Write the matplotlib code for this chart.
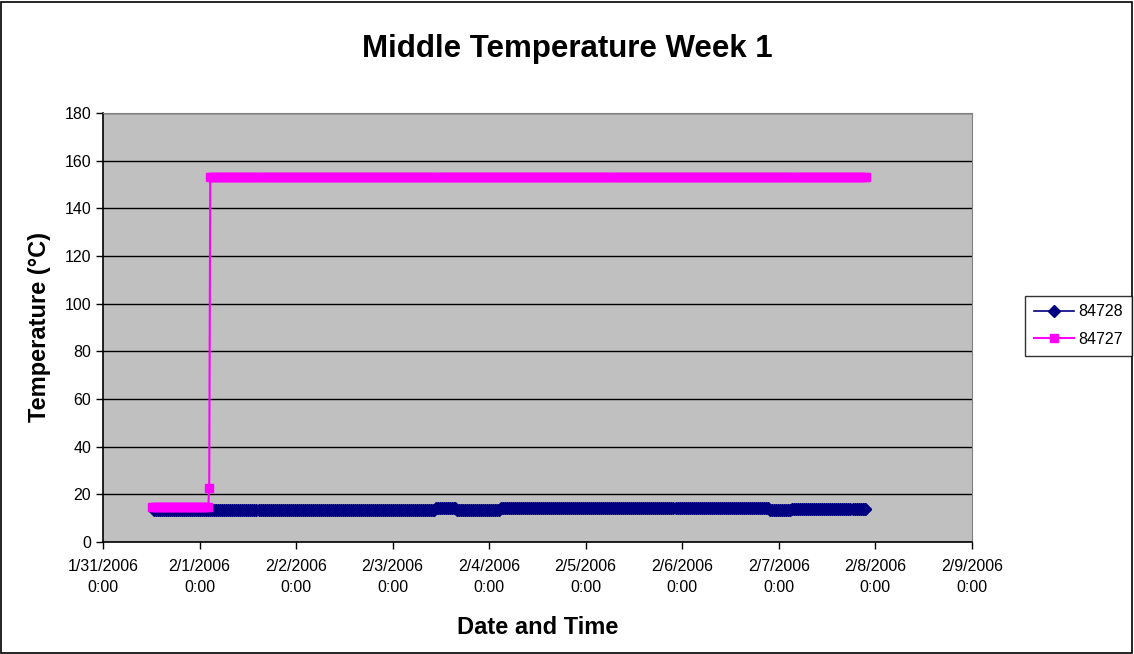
import numpy as np
import pandas as pd
import matplotlib
matplotlib.use("Agg")
import matplotlib.pyplot as plt
from matplotlib.patches import Rectangle

plt.rcParams['font.family'] = ['Liberation Sans', 'DejaVu Sans']

# Logger readings, stored as runs of constant value (start, end, temperature)
probe_28_start = ['2006-01-31 12:40', '2006-02-03 10:50', '2006-02-03 16:00',
                  '2006-02-04 02:50', '2006-02-06 21:50', '2006-02-07 03:20']
probe_28_end = ['2006-02-03 10:20', '2006-02-03 15:30', '2006-02-04 02:20',
                '2006-02-06 21:20', '2006-02-07 02:50', '2006-02-07 21:30']
probe_28_temp = [13.5, 14.3, 13.5, 14.1, 13.4, 14.0]

probe_27_start = ['2006-01-31 12:10', '2006-02-01 02:25', '2006-02-01 02:40']
probe_27_end = ['2006-02-01 02:10', '2006-02-01 02:25', '2006-02-07 21:40']
probe_27_temp = [14.5, 22.6, 153.3]

LOG_INTERVAL = '30min'

y_ticks = [0, 20, 40, 60, 80, 100, 120, 140, 160, 180]
x_start, x_end = '2006-01-31', '2006-02-09'


def expand_runs(starts, ends, temps):
    """Turn constant-value runs back into a logger time series."""
    times, values = [], []
    for s, e, t in zip(starts, ends, temps):
        stamps = pd.date_range(s, e, freq=LOG_INTERVAL)
        if len(stamps) == 0 or stamps[-1] != pd.Timestamp(e):
            stamps = stamps.append(pd.DatetimeIndex([pd.Timestamp(e)]))
        times.extend(stamps)
        values.extend([t] * len(stamps))
    return pd.DatetimeIndex(times), np.array(values)


t28, v28 = expand_runs(probe_28_start, probe_28_end, probe_28_temp)
t27, v27 = expand_runs(probe_27_start, probe_27_end, probe_27_temp)

fig = plt.figure(figsize=(11.34, 6.54), dpi=100)
ax = fig.add_axes([0.0908, 0.1713, 0.7662, 0.6559])
ax.set_facecolor('#C0C0C0')

ax.plot(t28, v28, color='#000080', lw=1.2, marker='D', markersize=6,
        markeredgecolor='#000080', label='84728', zorder=3)
ax.plot(t27, v27, color='#FF00FF', lw=1.5, marker='s', markersize=6,
        markeredgecolor='#FF00FF', label='84727', zorder=4)

ax.set_xlim(pd.Timestamp(x_start), pd.Timestamp(x_end))
ax.set_ylim(0, 180)
ax.set_yticks(y_ticks)
ax.yaxis.grid(True, color='black', lw=1)
ax.set_axisbelow(True)

day_ticks = pd.date_range(x_start, x_end, freq='D')
ax.set_xticks(day_ticks)
ax.set_xticklabels([f"{d.month}/{d.day}/{d.year}\n0:00" for d in day_ticks],
                   linespacing=1.55)
ax.tick_params(axis='both', direction='out', length=5, width=1,
               labelsize=11.5, color='black')
ax.tick_params(axis='x', pad=7)

for side in ('top', 'right'):
    ax.spines[side].set_color('#808080')
for side in ('left', 'bottom'):
    ax.spines[side].set_color('black')
    ax.spines[side].set_linewidth(1.2)

ax.set_xlabel('Date and Time', fontsize=17, fontweight='bold', labelpad=15)
ax.set_ylabel('Temperature (°C)', fontsize=17, fontweight='bold', labelpad=10)
fig.suptitle('Middle Temperature Week 1', fontsize=22.5, fontweight='bold',
             x=0.5, y=0.948)

leg = fig.legend(loc='center left', bbox_to_anchor=(0.904, 0.502),
                 fontsize=11.5, frameon=True, fancybox=False, handlelength=2.5,
                 borderpad=0.55, labelspacing=0.8, handletextpad=0.3,
                 borderaxespad=0)
leg.get_frame().set_edgecolor('black')
leg.get_frame().set_linewidth(1)

# outer chart border
fig.patches.append(Rectangle((0.001, 0.002), 0.997, 0.995, transform=fig.transFigure,
                             fill=False, edgecolor='black', lw=1.2))

fig.savefig('out.png', dpi=100)
